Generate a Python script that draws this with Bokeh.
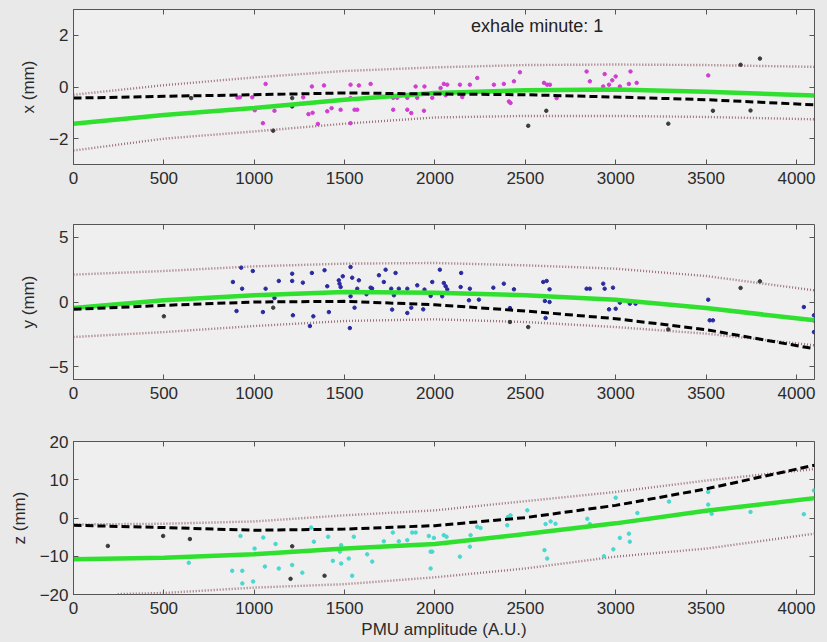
from bokeh.plotting import figure
from bokeh.models import LinearAxis, FixedTicker, Label, Range1d
from bokeh.layouts import column
from bokeh.embed import file_html
from bokeh.resources import INLINE

FONT = "Liberation Sans"

# ---------------- data ----------------
x_ticks = [0, 500, 1000, 1500, 2000, 2500, 3000, 3500, 4000]
curve_x = [0, 500, 1000, 1500, 2000, 2500, 3000, 3500, 4100]

# panel x
x_fit = [-1.42, -1.08, -0.81, -0.49, -0.23, -0.13, -0.10, -0.18, -0.33]
x_model = [-0.43, -0.36, -0.30, -0.23, -0.27, -0.30, -0.39, -0.49, -0.69]
x_upper = [-0.30, 0.07, 0.37, 0.62, 0.76, 0.85, 0.87, 0.85, 0.78]
x_lower = [-2.46, -2.00, -1.72, -1.42, -1.18, -1.12, -1.12, -1.16, -1.25]
x_pts_x = [907, 920, 989, 1003, 1063, 1112, 1271, 1319, 1323, 1300, 1386, 1404, 1428,
           1478, 1352, 1533, 1579, 1644, 1555, 1570, 1533, 1533, 1769, 1791, 1847, 1902,
           1769, 1847, 1869, 1939, 1893, 1942, 1985, 2031, 2049, 2068, 2059, 2138, 2193,
           2234, 2151, 2326, 2381, 2437, 2470, 2409, 2418, 2603, 2621, 2636, 2673, 2839,
           2857, 2939, 2963, 2981, 3000, 2931, 3023, 3082, 3073, 3116, 3512, 1048]
x_pts_y = [-0.41, -0.40, -0.40, -0.90, 0.12, -0.92, -0.40, 0.02, -1.00, -1.05, 0.06, -0.94, -0.82,
           -0.88, -1.43, 0.09, 0.06, 0.12, -0.88, -0.88, -1.40, -0.43, -0.42, -0.42, -0.42, -0.42,
           -0.88, -0.88, -1.01, -0.92, 0.02, 0.02, -0.42, -0.04, 0.12, 0.09, -0.32, 0.09, 0.09,
           0.35, -0.39, 0.09, 0.12, 0.22, 0.57, -0.56, -0.62, 0.16, 0.09, 0.09, -0.43, 0.60,
           0.22, 0.50, 0.09, 0.26, 0.41, 0.02, 0.02, 0.60, 0.12, 0.16, 0.45, -1.40]
x_dark_x = [651, 1105, 1210, 1210, 2516, 2616, 3291, 3538, 3691, 3746, 3798]
x_dark_y = [-0.43, -1.69, -0.43, -0.75, -1.50, -0.92, -1.42, -0.92, 0.86, -0.91, 1.10]

# panel y
y_fit = [-0.47, 0.13, 0.52, 0.78, 0.72, 0.52, 0.18, -0.47, -1.42]
y_model = [-0.57, -0.26, 0.00, 0.05, -0.21, -0.70, -1.29, -2.14, -3.62]
y_upper = [2.12, 2.40, 2.76, 2.97, 3.02, 2.84, 2.58, 2.01, 0.90]
y_lower = [-2.71, -2.33, -1.86, -1.47, -1.34, -1.55, -1.94, -2.45, -3.35]
y_pts_x = [882, 928, 933, 902, 992, 1063, 1048, 1136, 1112, 1210, 1210, 1214, 1269, 1319,
           1327, 1308, 1389, 1404, 1413, 1468, 1472, 1478, 1490, 1533, 1542, 1579, 1570,
           1533, 1555, 1529, 1621, 1644, 1652, 1690, 1727, 1717, 1782, 1758, 1800, 1847,
           1773, 1763, 1847, 1869, 1902, 1942, 1935, 1985, 1976, 2027, 2049, 2059, 2068,
           2040, 2145, 2142, 2193, 2188, 2243, 2323, 2381, 2437, 2415, 2599, 2618, 2634,
           2608, 2634, 2612, 2839, 2857, 2931, 2939, 2985, 2963, 3000, 3023, 3078, 3110,
           3512, 3520, 3538, 4041, 4097, 4097, 4097]
y_pts_y = [1.55, 2.66, 1.03, -0.70, 2.40, 1.03, -0.78, 1.63, 0.31, 2.19, 1.63, -1.03, 1.50, 2.25,
           -1.11, -1.86, 2.46, 1.22, -0.78, 1.68, 1.42, 1.16, 1.99, 2.71, 1.88, 1.68, 1.03,
           0.44, -0.44, -2.02, 0.60, 1.11, 1.05, 2.07, 2.50, 1.55, 2.25, 1.03, 1.03, 1.03,
           0.52, -0.59, -0.85, -0.44, 1.29, 0.96, -0.57, 1.55, 0.47, 2.50, 1.47, 1.22, 0.98,
           0.44, 2.25, 1.16, 1.03, 0.13, 0.18, 1.11, 1.42, 0.98, -0.47, 1.55, 1.63, 0.98,
           0.08, 0.00, -1.24, 1.03, 1.03, 1.42, 1.03, 1.11, -0.57, -0.52, -0.05, -0.13, -0.13,
           0.18, -1.42, -1.42, -0.39, -1.03, -1.42, -2.33]
y_dark_x = [500, 1105, 2415, 2516, 3291, 3691, 3798]
y_dark_y = [-1.11, -0.44, -1.55, -1.94, -2.12, 1.09, 1.60]

# panel z
z_fit = [-10.8, -10.4, -9.5, -8.0, -6.8, -4.2, -1.4, 1.9, 5.2]
z_model = [-1.9, -2.5, -3.2, -2.9, -2.0, 0.1, 3.3, 7.6, 13.8]
z_upper = [-1.7, -1.5, -0.9, 0.7, 2.0, 4.4, 6.8, 9.8, 12.8]
z_lower_x = [245, 500, 1000, 1500, 2000, 2500, 3000, 3500, 4100]
z_lower = [-19.9, -19.6, -18.2, -17.3, -15.5, -13.2, -10.1, -8.0, -4.1]
z_pts_x = [638, 878, 934, 924, 934, 994, 1002, 1050, 1059, 1118, 1136, 1210, 1266, 1315,
           1330, 1409, 1481, 1474, 1435, 1481, 1542, 1551, 1523, 1625, 1653, 1717, 1767,
           1800, 1847, 1874, 1893, 1966, 1994, 1976, 1976, 2049, 2064, 1985, 2138, 2193,
           2197, 2234, 2252, 2404, 2418, 2400, 2511, 2612, 2640, 2667, 2606, 2621, 2843,
           2857, 2935, 2987, 3000, 3023, 3073, 3078, 3120, 3295, 3512, 3512, 3531, 3746,
           4041, 4097]
z_pts_y = [-11.7, -13.8, -13.8, -4.7, -17.1, -16.6, -8.0, -5.1, -12.7, -6.8, -13.2, -12.3, -14.3, -2.5,
           -6.2, -4.9, -7.1, -8.8, -11.2, -11.9, -15.1, -4.9, -10.6, -9.5, -11.4, -6.1, -3.8,
           -6.1, -5.8, -3.8, -3.8, -4.7, -5.2, -8.8, -13.2, -4.5, -4.9, -8.8, -10.1, -7.5,
           -4.5, -2.3, -2.6, 0.26, 0.7, -1.9, 2.0, -1.6, -0.9, -1.5, -8.4, -10.6, -0.2,
           -1.6, -10.0, -8.2, 5.3, -5.2, -4.1, -6.2, 1.3, 4.3, 6.8, 3.5, 1.1, 1.6,
           1.0, 7.2]
z_dark_x = [190, 496, 644, 1210, 1201, 1389]
z_dark_y = [-7.3, -4.7, -5.5, -7.4, -15.9, -15.1]

# ---------------- styling ----------------
BG = "#e9e9e9"
PLOT_BG = "#efefef"
GREEN = "#2fe02f"
BOUND = "#8e5862"
TXT = "#2b2b2b"


def make_panel(ylabel, y_rng, y_ticks, fit, model, upper, lower, lower_x,
               pts_x, pts_y, pt_color, dark_x, dark_y, top_b, bot_b, fh, xlabel=None):
    p = figure(frame_width=741, frame_height=fh, x_range=Range1d(0, 4100),
               y_range=Range1d(*y_rng), output_backend="svg", toolbar_location=None,
               min_border_left=73, min_border_right=13, min_border_top=top_b,
               min_border_bottom=bot_b)
    p.background_fill_color = PLOT_BG
    p.border_fill_color = BG
    p.outline_line_color = "#555555"
    p.outline_line_width = 1
    p.grid.visible = False

    p.line(curve_x, upper, color=BOUND, line_width=2.4, line_dash="1 2", line_alpha=0.85)
    p.line(lower_x, lower, color=BOUND, line_width=2.4, line_dash="1 2", line_alpha=0.85)
    p.scatter(dark_x, dark_y, size=3.5, color="#3a3a3a")
    p.scatter(pts_x, pts_y, size=3.5, color=pt_color)
    p.line(curve_x, fit, color=GREEN, line_width=4.5)
    p.line(curve_x, model, color="black", line_width=3, line_dash="8 4")

    for ax in (p.xaxis[0], p.yaxis[0]):
        ax.major_tick_in = 5
        ax.major_tick_out = 0
        ax.minor_tick_line_color = None
        ax.axis_line_color = "#555555"
        ax.major_tick_line_color = "#555555"
        ax.major_label_text_font = FONT
        ax.major_label_text_font_size = "17px"
        ax.major_label_text_color = TXT
        ax.axis_label_text_font = FONT
        ax.axis_label_text_font_size = "17px"
        ax.axis_label_text_font_style = "normal"
        ax.axis_label_text_color = TXT
    p.xaxis[0].ticker = FixedTicker(ticks=x_ticks)
    p.yaxis[0].ticker = FixedTicker(ticks=y_ticks)
    p.xaxis[0].major_label_standoff = 7
    p.yaxis[0].major_label_standoff = 5
    p.yaxis[0].axis_label = ylabel
    p.yaxis[0].axis_label_standoff = 8
    if xlabel:
        p.xaxis[0].axis_label = xlabel
        p.xaxis[0].axis_label_standoff = 3

    right = LinearAxis(ticker=FixedTicker(ticks=y_ticks))
    top = LinearAxis(ticker=FixedTicker(ticks=x_ticks))
    for ax in (right, top):
        ax.major_tick_in = 5
        ax.major_tick_out = 0
        ax.minor_tick_line_color = None
        ax.axis_line_color = None
        ax.major_tick_line_color = "#555555"
        ax.major_label_text_color = None
        ax.major_label_text_font_size = "1px"
        ax.major_label_standoff = 0
    p.add_layout(right, "right")
    p.add_layout(top, "above")
    return p


p1 = make_panel("x (mm)", (-3, 3), [-2, 0, 2], x_fit, x_model, x_upper, x_lower, curve_x,
                x_pts_x, x_pts_y, "#d23cd2", x_dark_x, x_dark_y, 9, 50, 155)
p1.add_layout(Label(x=2200, y=2.35, text="exhale minute: 1", text_font=FONT,
                    text_font_size="18px", text_color="#222222", text_baseline="middle"))

p2 = make_panel("y (mm)", (-6, 6), [-5, 0, 5], y_fit, y_model, y_upper, y_lower, curve_x,
                y_pts_x, y_pts_y, "#2a2aa0", y_dark_x, y_dark_y, 10, 51, 155)

p3 = make_panel("z (mm)", (-20, 20), [-20, -10, 0, 10, 20], z_fit, z_model, z_upper, z_lower,
                z_lower_x, z_pts_x, z_pts_y, "#48d8d0", z_dark_x, z_dark_y, 11, 48, 153,
                xlabel="PMU amplitude (A.U.)")

layout = column(p1, p2, p3, spacing=0, styles={"background-color": BG})
open("out.html", "w").write(file_html(layout, INLINE))
